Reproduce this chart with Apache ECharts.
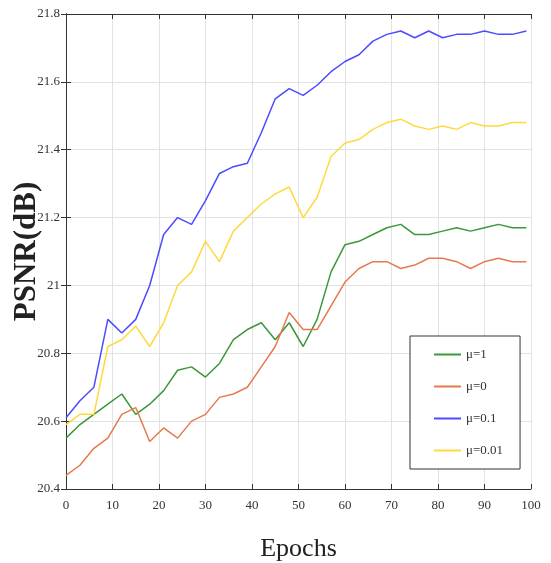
<!DOCTYPE html>
<html lang="en">
<head>
    <meta charset="utf-8">
    <title>PSNR vs Epochs</title>
    <script src="https://cdn.jsdelivr.net/npm/echarts@6/dist/echarts.min.js"></script>
    <style>
        html, body { margin: 0; padding: 0; background: #fff; }
    </style>
</head>

<body>
    <div id="main" style="width:551px;height:563px;"></div>
    <script type="text/javascript">
        // data (one point every 3 epochs)
        var epochs = [0, 3, 6, 9, 12, 15, 18, 21, 24, 27, 30, 33, 36, 39, 42, 45, 48,
                      51, 54, 57, 60, 63, 66, 69, 72, 75, 78, 81, 84, 87, 90, 93, 96, 99];

        var mu1 = [20.55, 20.59, 20.62, 20.65, 20.68, 20.62, 20.65, 20.69, 20.75, 20.76, 20.73, 20.77,
                   20.84, 20.87, 20.89, 20.84, 20.89, 20.82, 20.90, 21.04, 21.12, 21.13, 21.15, 21.17,
                   21.18, 21.15, 21.15, 21.16, 21.17, 21.16, 21.17, 21.18, 21.17, 21.17];

        var mu0 = [20.44, 20.47, 20.52, 20.55, 20.62, 20.64, 20.54, 20.58, 20.55, 20.60, 20.62, 20.67,
                   20.68, 20.70, 20.76, 20.82, 20.92, 20.87, 20.87, 20.94, 21.01, 21.05, 21.07, 21.07,
                   21.05, 21.06, 21.08, 21.08, 21.07, 21.05, 21.07, 21.08, 21.07, 21.07];

        var mu01 = [20.61, 20.66, 20.70, 20.90, 20.86, 20.90, 21.00, 21.15, 21.20, 21.18, 21.25, 21.33,
                    21.35, 21.36, 21.45, 21.55, 21.58, 21.56, 21.59, 21.63, 21.66, 21.68, 21.72, 21.74,
                    21.75, 21.73, 21.75, 21.73, 21.74, 21.74, 21.75, 21.74, 21.74, 21.75];

        var mu001 = [20.59, 20.62, 20.62, 20.82, 20.84, 20.88, 20.82, 20.89, 21.00, 21.04, 21.13, 21.07,
                     21.16, 21.20, 21.24, 21.27, 21.29, 21.20, 21.26, 21.38, 21.42, 21.43, 21.46, 21.48,
                     21.49, 21.47, 21.46, 21.47, 21.46, 21.48, 21.47, 21.47, 21.48, 21.48];

        var names = ['\u03bc=1', '\u03bc=0', '\u03bc=0.1', '\u03bc=0.01'];
        var colors = ['#3a983a', '#e8784e', '#4b4bff', '#ffd93d'];
        var values = [mu1, mu0, mu01, mu001];

        var serif = "'Liberation Serif', 'Times New Roman', serif";

        function pairs(ys) {
            return epochs.map(function (x, i) { return [x, ys[i]]; });
        }

        var series = names.map(function (n, i) {
            return {
                name: n,
                type: 'line',
                data: pairs(values[i]),
                showSymbol: false,
                color: colors[i],
                lineStyle: { width: 1.5, color: colors[i] }
            };
        });

        var myChart = echarts.init(document.getElementById('main'));

        myChart.setOption({
            animation: false,
            backgroundColor: '#fff',
            grid: { left: 66, right: 20, top: 14, bottom: 74, outerBoundsMode: 'none', containLabel: false },
            legend: {
                data: names,
                orient: 'vertical',
                left: 410,
                top: 336,
                padding: [12, 17, 12, 24],
                itemGap: 19,
                itemWidth: 27,
                itemHeight: 2,
                icon: 'rect',
                borderColor: '#333',
                borderWidth: 1,
                backgroundColor: '#fff',
                textStyle: { fontFamily: serif, fontSize: 13, color: '#333' }
            },
            xAxis: [{
                type: 'value',
                min: 0, max: 100, interval: 10,
                name: 'Epochs',
                nameLocation: 'middle',
                nameGap: 47,
                nameMoveOverlap: false,
                nameTextStyle: { fontFamily: serif, fontSize: 26, color: '#222' },
                axisLine: { lineStyle: { color: '#333' } },
                axisTick: { inside: true, length: 5, lineStyle: { color: '#333' } },
                axisLabel: { fontFamily: serif, fontSize: 13, color: '#333', margin: 10 },
                splitLine: { show: true, lineStyle: { color: '#e2e2e2' } }
            }, {
                type: 'value',
                position: 'top',
                min: 0, max: 100, interval: 10,
                axisLine: { show: true, lineStyle: { color: '#333' } },
                axisTick: { show: true, inside: true, length: 5, lineStyle: { color: '#333' } },
                axisLabel: { show: false },
                splitLine: { show: false }
            }],
            yAxis: [{
                type: 'value',
                min: 20.4, max: 21.8, interval: 0.2,
                name: 'PSNR(dB)',
                nameLocation: 'middle',
                nameGap: 24,
                nameMoveOverlap: false,
                nameTextStyle: { fontFamily: serif, fontSize: 31, fontWeight: 'bold', color: '#222' },
                axisLine: { show: true, lineStyle: { color: '#333' } },
                axisTick: { show: true, inside: true, length: 5, lineStyle: { color: '#333' } },
                axisLabel: { fontFamily: serif, fontSize: 13, color: '#333', margin: 6 },
                splitLine: { show: true, lineStyle: { color: '#e2e2e2' } }
            }, {
                type: 'value',
                position: 'right',
                min: 20.4, max: 21.8, interval: 0.2,
                axisLine: { show: true, lineStyle: { color: '#333' } },
                axisTick: { show: true, inside: true, length: 5, lineStyle: { color: '#333' } },
                axisLabel: { show: false },
                splitLine: { show: false }
            }],
            series: series
        });
    </script>
</body>
</html>
